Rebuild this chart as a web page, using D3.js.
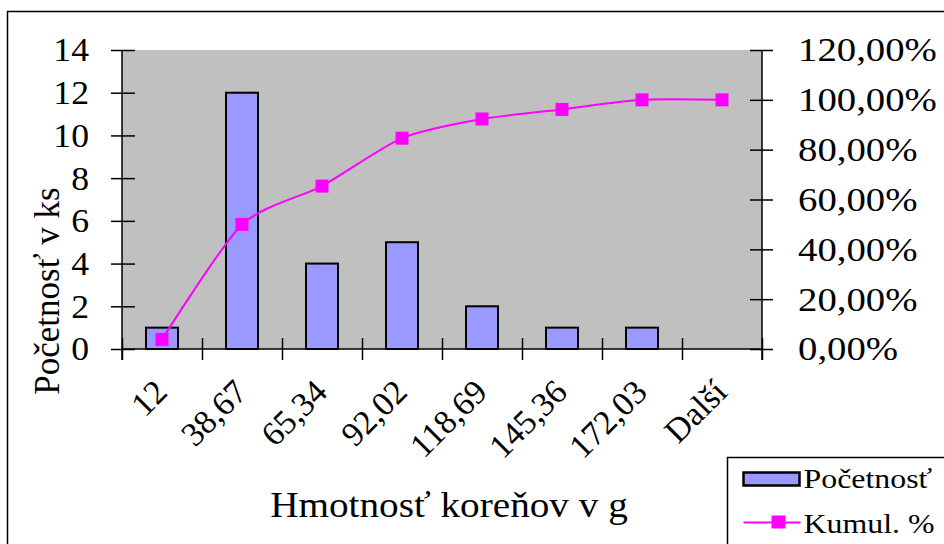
<!DOCTYPE html>
<html>
<head>
<meta charset="utf-8">
<script src="https://cdn.jsdelivr.net/npm/d3@7"></script>
</head>
<body style="margin:0">
<svg id="chart" width="944" height="544"></svg>
<script>
// data
const categories = ["12", "38,67", "65,34", "92,02", "118,69", "145,36", "172,03", "Další"];
const counts = [1, 12, 4, 5, 2, 1, 1, 0];
const cumulPct = [0.0385, 0.5, 0.6538, 0.8462, 0.9231, 0.9615, 1.0, 1.0];
const countTicks = [0, 2, 4, 6, 8, 10, 12, 14];
const pctTicks = [0, 0.2, 0.4, 0.6, 0.8, 1.0, 1.2];

const FONT = "Liberation Serif";
const svg = d3.select("#chart");
const plot = { left: 122, right: 762, top: 50, bottom: 349 };

// the original text is drawn a bit wider than the font
function stretch(sel, k) {
  sel.each(function () {
    const w = this.getComputedTextLength();
    d3.select(this).attr("textLength", w * k).attr("lengthAdjust", "spacingAndGlyphs");
  });
}

// outer chart frame
svg.append("rect")
  .attr("x", 7.5).attr("y", 11.5)
  .attr("width", 950).attr("height", 560)
  .attr("fill", "#fff").attr("stroke", "#000").attr("stroke-width", 1.5);

// plot area background
svg.append("rect")
  .attr("x", plot.left).attr("y", plot.top)
  .attr("width", plot.right - plot.left).attr("height", plot.bottom - plot.top)
  .attr("fill", "#c0c0c0");

// scales
const x = d3.scaleBand().domain(categories).range([plot.left, plot.right]).padding(0);
const edges = d3.scalePoint().domain(d3.range(categories.length + 1)).range([plot.left, plot.right]);
const y = d3.scaleLinear().domain([0, 14]).range([plot.bottom, plot.top]);
const y2 = d3.scaleLinear().domain([0, 1.2]).range([plot.bottom, plot.top]);

const barW = 32;
const cx = (i) => x(categories[i]) + x.bandwidth() / 2;

// bars
svg.append("g")
  .selectAll("rect")
  .data(counts)
  .join("rect")
  .attr("x", (d, i) => cx(i) - barW / 2)
  .attr("y", (d) => y(d))
  .attr("width", barW)
  .attr("height", (d) => y(0) - y(d))
  .attr("fill", "#9999ff")
  .attr("stroke", "#000")
  .attr("stroke-width", 2)
  .style("display", (d) => (d > 0 ? null : "none"));

// axes
const fmtPct = (v) => d3.format(".2f")(v * 100).replace(".", ",") + "%";

const leftAxis = svg.append("g")
  .attr("transform", `translate(${plot.left},0)`)
  .call(d3.axisLeft(y).tickValues(countTicks).tickSize(11).tickPadding(22));

const rightAxis = svg.append("g")
  .attr("transform", `translate(${plot.right},0)`)
  .call(d3.axisRight(y2).tickValues(pctTicks).tickFormat(fmtPct).tickSize(11).tickPadding(25));

const bottomTicks = svg.append("g")
  .attr("transform", `translate(0,${plot.bottom})`)
  .call(d3.axisBottom(edges).tickSize(11).tickFormat(""));

const bottomLabels = svg.append("g")
  .attr("transform", `translate(0,${plot.bottom})`)
  .call(d3.axisBottom(x).tickSize(0));

// ticks cross the axis lines
leftAxis.selectAll(".tick line").attr("x1", 13);
rightAxis.selectAll(".tick line").attr("x1", -12);
bottomTicks.selectAll(".tick line").attr("y1", -11);

[leftAxis, rightAxis, bottomTicks, bottomLabels].forEach((g) => {
  g.attr("font-family", FONT).attr("font-size", 34);
  g.select(".domain").attr("stroke", "#000").attr("stroke-width", 1.5);
  g.selectAll(".tick line").attr("stroke", "#000").attr("stroke-width", 1.5);
  g.selectAll("text").attr("fill", "#000");
});
bottomLabels.select(".domain").remove();
bottomTicks.select(".domain").attr("d", `M${plot.left},0H${plot.right}`);
leftAxis.select(".domain").attr("d", `M0,${plot.top}V${plot.bottom + 11}`);
rightAxis.select(".domain").attr("d", `M0,${plot.top}V${plot.bottom + 11}`);

rightAxis.selectAll("text").attr("text-anchor", "start");
stretch(rightAxis.selectAll(".tick text"), 1.14);
stretch(leftAxis.selectAll(".tick text"), 1.05);

bottomLabels.selectAll(".tick text")
  .attr("text-anchor", "end")
  .attr("y", 0)
  .attr("dy", 0)
  .attr("transform", "translate(7,45) rotate(-45)");

// cumulative line
const line = d3.line()
  .x((d, i) => cx(i))
  .y((d) => y2(d))
  .curve(d3.curveCardinal.tension(0.3));

svg.append("path")
  .datum(cumulPct)
  .attr("d", line)
  .attr("fill", "none")
  .attr("stroke", "#ff00ff")
  .attr("stroke-width", 2);

svg.append("g")
  .selectAll("rect")
  .data(cumulPct)
  .join("rect")
  .attr("x", (d, i) => cx(i) - 6.5)
  .attr("y", (d) => y2(d) - 6.5)
  .attr("width", 13)
  .attr("height", 13)
  .attr("fill", "#ff00ff");

// axis titles
svg.append("text")
  .attr("x", 449).attr("y", 517)
  .attr("text-anchor", "middle")
  .attr("font-family", FONT)
  .attr("font-size", 35)
  .text("Hmotnosť koreňov v g")
  .call(stretch, 1.12);

svg.append("text")
  .attr("transform", "translate(59,291) rotate(-90)")
  .attr("text-anchor", "middle")
  .attr("font-family", FONT)
  .attr("font-size", 35)
  .text("Početnosť v ks");

// legend
const legend = svg.append("g").attr("transform", "translate(727.5,457.5)");
legend.append("rect")
  .attr("width", 240).attr("height", 120)
  .attr("fill", "#fff").attr("stroke", "#000").attr("stroke-width", 1.5);
legend.append("rect")
  .attr("x", 16).attr("y", 15).attr("width", 56).attr("height", 13)
  .attr("fill", "#9999ff").attr("stroke", "#000").attr("stroke-width", 2.5);
legend.append("text")
  .attr("x", 76).attr("y", 30)
  .attr("font-family", FONT)
  .attr("font-size", 27)
  .text("Početnosť")
  .call(stretch, 1.18);
legend.append("line")
  .attr("x1", 16).attr("x2", 73).attr("y1", 65).attr("y2", 65)
  .attr("stroke", "#ff00ff").attr("stroke-width", 2);
legend.append("rect")
  .attr("x", 44).attr("y", 58).attr("width", 14).attr("height", 13)
  .attr("fill", "#ff00ff");
legend.append("text")
  .attr("x", 76).attr("y", 75)
  .attr("font-family", FONT)
  .attr("font-size", 27)
  .text("Kumul. %")
  .call(stretch, 1.18);
</script>
</body>
</html>
